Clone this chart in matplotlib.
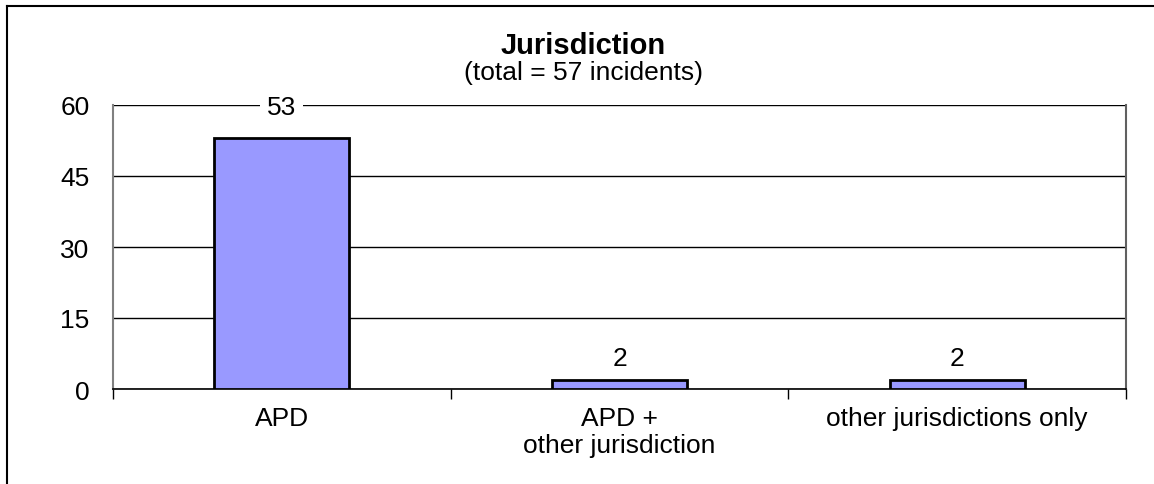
import matplotlib
matplotlib.use("Agg")
import matplotlib.pyplot as plt
from matplotlib.lines import Line2D

plt.rcParams['font.family'] = ['Liberation Sans', 'DejaVu Sans']

categories = ["APD", "APD +\nother jurisdiction", "other jurisdictions only"]
values = [53, 2, 2]
yticks = [0, 15, 30, 45, 60]
title = "Jurisdiction"
subtitle = "(total = 57 incidents)"

W, H = 1154, 485
fig = plt.figure(figsize=(W / 100, H / 100), dpi=100)
fig.patch.set_facecolor("white")

FS = 19

# axes in pixel coords: left 113, right 1126, top 106, bottom 390
ax = fig.add_axes([113 / W, 1 - 390 / H, (1126 - 113) / W, (390 - 106) / H])

x = list(range(len(categories)))
ax.bar(x, values, width=0.4, color="#9999FF", edgecolor="black", linewidth=2, zorder=3)
ax.set_xlim(-0.5, len(categories) - 0.5)
ax.set_ylim(0, 60)
ax.set_yticks(yticks)
ax.set_yticklabels([str(t) for t in yticks], fontsize=FS)
ax.tick_params(axis="y", length=0, pad=17)
ax.yaxis.grid(True, color="black", linewidth=1, zorder=0)
ax.set_axisbelow(True)

ax.set_xticks(x)
ax.set_xticklabels(categories, fontsize=FS, linespacing=1.15, va="top")
ax.tick_params(axis="x", length=0, pad=12)
# boundary ticks
ax.set_xticks([i - 0.5 for i in range(len(categories) + 1)], minor=True)
ax.tick_params(axis="x", which="minor", length=7, width=1, color="black")

ax.spines["top"].set_visible(False)
ax.spines["left"].set_color("#808080")
ax.spines["left"].set_linewidth(1.5)
ax.spines["right"].set_color("#606060")
ax.spines["right"].set_linewidth(1.5)
ax.spines["bottom"].set_color("black")
ax.spines["bottom"].set_linewidth(1.2)

for xi, v in zip(x, values):
    big = v > 40
    ax.annotate(str(v), (xi, v), xytext=(0, 13.5 if big else 7), textcoords="offset points",
                ha="center", va="bottom", fontsize=FS, zorder=5,
                bbox=dict(facecolor="white", edgecolor="none", pad=5) if big else None)

fig.text(583 / W, 1 - 46 / H, title, ha="center", va="center", fontsize=21, fontweight="bold")
fig.text(583 / W, 1 - 73 / H, subtitle, ha="center", va="center", fontsize=FS)

# outer border (top and left)
fig.add_artist(Line2D([7 / W, 7 / W], [0, 1 - 7 / H], transform=fig.transFigure, color="black", linewidth=1.5))
fig.add_artist(Line2D([7 / W, 1], [1 - 7 / H, 1 - 7 / H], transform=fig.transFigure, color="black", linewidth=1.5))

fig.savefig("out.png", dpi=100, facecolor="white")
